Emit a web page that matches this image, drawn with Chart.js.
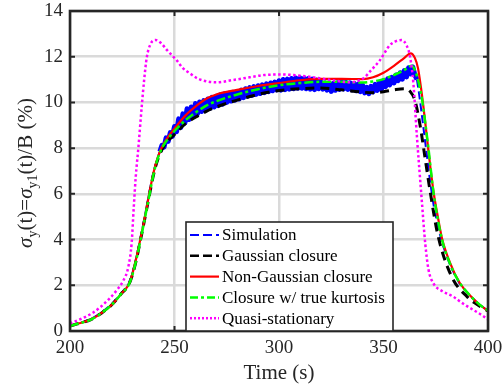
<!DOCTYPE html>
<html>
<head>
<meta charset="utf-8">
<script src="https://cdn.jsdelivr.net/npm/chart.js@4"></script>
<style>
  body { margin: 0; background: #fff; }
  #wrap { width: 503px; height: 392px; position: relative; }
</style>
</head>
<body>
<div id="wrap"><canvas id="grafico"></canvas></div>
<script>
// eixos
const xTicks = [200, 250, 300, 350, 400];
const yTicks = [0, 2, 4, 6, 8, 10, 12, 14];

// Simulation (ruidosa no patamar)
const simTime = [200, 205, 210, 215, 220, 225, 228, 230, 232, 233.5, 235, 236.5, 238, 240, 242,
  243, 244, 245, 246, 247, 248, 249, 250, 251, 252, 253, 254, 255, 256, 257, 258, 259, 260, 261, 262, 263, 264,
  265, 266, 267, 268, 269, 270, 271, 272, 273, 274, 275, 276, 277, 278, 279, 280, 281, 282, 283, 284, 285,
  286, 287, 288, 289, 290, 291, 292, 293, 294, 295, 296, 297, 298, 299, 300, 301, 302, 303, 304, 305, 306,
  307, 308, 309, 310, 311, 312, 313, 314, 315, 316, 317, 318, 319, 320, 321, 322, 323, 324, 325, 326, 327,
  328, 329, 330, 331, 332, 333, 334, 335, 336, 337, 338, 339, 340, 341, 342, 343, 344, 345, 346, 347, 348,
  349, 350, 351, 352, 353, 354, 355, 356, 357, 358, 359, 360, 361, 362, 363, 364, 365, 366,
  367, 368, 369.5, 371, 372.5, 374, 376, 378, 382, 386.5, 392, 396, 400];
const simValue = [0.22, 0.36, 0.52, 0.8, 1.18, 1.7, 2.05, 2.58, 3.32, 3.98, 4.65, 5.35, 6.1, 7.0, 7.6,
  7.85, 8.12, 8.05, 8.45, 8.3, 8.68, 8.52, 8.95, 8.72, 9.28, 8.9, 9.5, 9.1, 9.72, 9.25, 9.8, 9.38, 9.95, 9.5, 10.02, 9.6, 10.08,
  9.68, 10.15, 9.74, 10.22, 9.8, 10.27, 9.86, 10.33, 9.92, 10.38, 10.0, 10.4, 10.06, 10.44, 10.1, 10.48, 10.15, 10.54, 10.21, 10.6, 10.27,
  10.65, 10.31, 10.69, 10.35, 10.73, 10.39, 10.77, 10.43, 10.81, 10.47, 10.85, 10.51, 10.89, 10.55, 10.95, 10.54, 11.0, 10.56, 11.02, 10.58, 11.05,
  10.6, 11.07, 10.62, 11.08, 10.62, 11.06, 10.6, 11.04, 10.58, 11.02, 10.56, 10.98, 10.6, 10.9, 10.58, 10.86, 10.54, 10.82, 10.48, 10.84, 10.53,
  10.86, 10.57, 10.9, 10.59, 10.88, 10.57, 10.86, 10.55, 10.83, 10.51, 10.8, 10.47, 10.76, 10.42, 10.66, 10.38, 10.7, 10.46, 10.79, 10.53, 10.87,
  10.57, 10.95, 10.69, 11.03, 10.77, 11.1, 10.85, 11.2, 10.95, 11.3, 11.02, 11.4, 11.12, 11.52, 11.25, 11.55, 11.2, 11.0,
  10.4, 9.7, 8.6, 7.5, 6.4, 5.5, 4.6, 3.85, 2.85, 2.05, 1.48, 1.15, 0.88];

// Gaussian closure
const gaussTime = [200, 205, 210, 215, 220, 225, 228, 230, 232, 233.5, 235, 236.5, 238, 240, 242, 245, 250, 255, 260,
  265, 270, 280, 290, 300, 310, 320, 330, 340, 345, 350, 355, 360, 363, 365, 367.5, 370, 372.5, 376, 382.5, 390, 395, 400];
const gaussValue = [0.22, 0.35, 0.5, 0.78, 1.15, 1.68, 2.0, 2.5, 3.22, 3.88, 4.55, 5.25, 5.95, 6.85, 7.5, 8.1, 8.6, 9.05, 9.35,
  9.6, 9.8, 10.1, 10.35, 10.52, 10.6, 10.63, 10.55, 10.45, 10.42, 10.47, 10.55, 10.6, 10.45, 10.1, 9.0, 7.5, 6.0, 4.2, 2.4, 1.5, 1.15, 0.88];

// Non-Gaussian closure
const nonGaussTime = [200, 205, 210, 215, 220, 225, 228, 230, 232, 233.5, 235, 236.5, 238, 240, 242, 244, 247, 250, 253,
  256, 260, 265, 270, 280, 290, 300, 310, 320, 330, 340, 345, 350, 355, 360, 363, 365, 366.5, 368, 369.5, 371, 372.5,
  374, 376, 378, 382, 386.5, 392, 396, 400];
const nonGaussValue = [0.22, 0.35, 0.5, 0.78, 1.15, 1.68, 2.02, 2.55, 3.3, 3.95, 4.6, 5.3, 6.05, 6.95, 7.6, 8.05, 8.5, 8.85, 9.2,
  9.5, 9.82, 10.15, 10.35, 10.55, 10.72, 10.85, 10.97, 11.03, 11.03, 11.02, 11.1, 11.3, 11.6, 11.95, 12.15, 11.95, 11.5, 10.6, 9.5, 8.3, 7.1,
  6.05, 5.0, 4.05, 2.95, 2.1, 1.5, 1.15, 0.88];

// Closure w/ true kurtosis
const kurtTime = [200, 205, 210, 215, 220, 225, 228, 230, 232, 233.5, 235, 236.5, 238, 240, 242, 244, 247, 250, 255,
  260, 265, 270, 280, 290, 300, 310, 320, 330, 340, 345, 350, 355, 360, 363.5, 365.5, 367, 368.5, 370, 371.5, 374,
  378, 382, 386.5, 392, 396, 400];
const kurtValue = [0.22, 0.35, 0.5, 0.78, 1.15, 1.68, 2.0, 2.5, 3.22, 3.88, 4.55, 5.25, 5.95, 6.88, 7.55, 8.0, 8.42, 8.75, 9.2,
  9.55, 9.85, 10.05, 10.35, 10.58, 10.75, 10.85, 10.9, 10.9, 10.87, 10.92, 11.02, 11.2, 11.42, 11.6, 11.3, 10.8, 10.1, 9.1, 8.0, 6.0,
  4.0, 2.9, 2.1, 1.5, 1.15, 0.9];

// Quasi-stationary
const quasiTime = [200, 205, 211, 215, 219, 222.5, 225.5, 227.9, 229.5, 230.5, 231.5, 232.7, 234.3, 235.5, 236.7, 238.5,
  241, 243.5, 246.3, 251, 254, 257.4, 261, 265.4, 270, 278, 286, 293, 300, 307, 314.8, 320, 327, 334, 338, 341, 344,
  348.3, 353, 356, 358.7, 361, 362.7, 364.3, 366, 368.3, 370, 371.5, 373.9, 378, 383.4, 388, 393, 397, 400];
const quasiValue = [0.33, 0.52, 0.8, 1.08, 1.43, 1.8, 2.2, 2.8, 3.85, 5.4, 6.8, 8.0, 9.8, 11.0, 11.95, 12.55,
  12.73, 12.6, 12.3, 11.85, 11.5, 11.27, 11.05, 10.92, 10.88, 10.98, 11.1, 11.2, 11.22, 11.2, 11.12, 11.05, 10.95, 10.88, 10.95, 11.1, 11.4,
  11.85, 12.5, 12.68, 12.73, 12.5, 12.0, 10.83, 8.5, 5.73, 3.8, 2.7, 2.08, 1.75, 1.5, 1.2, 0.92, 0.7, 0.5];

const fonte = "'Liberation Serif', 'Times New Roman', serif";
const cinza = "#262626";

function pontos(ts, vs) {
  return ts.map((t, i) => ({ x: t, y: vs[i] }));
}

const largo = c => c.p0.parsed.x >= 243 && c.p1.parsed.x <= 366;

const series = [
  { label: "Simulation", data: pontos(simTime, simValue), borderColor: "#0000ff", borderWidth: 2,
    borderDash: [8, 4], tension: 0, order: 5, leg: { dash: [9, 4], w: 2 },
    segment: {
      borderWidth: c => (largo(c) ? 5 : 2),
      borderDash: c => (largo(c) ? [] : [8, 4])
    } },
  { label: "Gaussian closure", data: pontos(gaussTime, gaussValue), borderColor: "#000000", borderWidth: 3,
    borderDash: [9, 6], cubicInterpolationMode: "monotone", order: 4, leg: { dash: [9, 4], w: 2.5 } },
  { label: "Non-Gaussian closure", data: pontos(nonGaussTime, nonGaussValue), borderColor: "#ff0000", borderWidth: 2.2,
    cubicInterpolationMode: "monotone", order: 3, leg: { dash: [], w: 2.2 } },
  { label: "Closure w/ true kurtosis", data: pontos(kurtTime, kurtValue), borderColor: "#00ff00", borderWidth: 2.5,
    borderDash: [9, 3, 3, 3], cubicInterpolationMode: "monotone", order: 2, leg: { dash: [8, 3, 3, 3], w: 2.5 } },
  { label: "Quasi-stationary", data: pontos(quasiTime, quasiValue), borderColor: "#ff00ff", borderWidth: 2.5,
    borderDash: [2.5, 2.5], cubicInterpolationMode: "monotone", order: 1, leg: { dash: [2, 2], w: 2.5 } }
];

const moldura = {
  id: "moldura",
  afterDatasetsDraw(chart) {
    const ctx = chart.ctx;
    const a = chart.chartArea;
    const sx = chart.scales.x, sy = chart.scales.y;
    ctx.save();
    // ticks para dentro
    ctx.strokeStyle = cinza;
    ctx.lineWidth = 2;
    xTicks.forEach(v => {
      const px = sx.getPixelForValue(v);
      ctx.beginPath();
      ctx.moveTo(px, a.bottom); ctx.lineTo(px, a.bottom - 5);
      ctx.moveTo(px, a.top); ctx.lineTo(px, a.top + 5);
      ctx.stroke();
    });
    yTicks.forEach(v => {
      const py = sy.getPixelForValue(v);
      ctx.beginPath();
      ctx.moveTo(a.left, py); ctx.lineTo(a.left + 5, py);
      ctx.moveTo(a.right, py); ctx.lineTo(a.right - 5, py);
      ctx.stroke();
    });
    // caixa
    ctx.lineWidth = 2.6;
    ctx.strokeRect(a.left, a.top, a.right - a.left, a.bottom - a.top);

    // legenda
    const lx = 186, ly = 222, lw = 207, lh = a.bottom - 222;
    ctx.fillStyle = "#fff";
    ctx.fillRect(lx, ly, lw, lh);
    ctx.lineWidth = 1.6;
    ctx.strokeStyle = cinza;
    ctx.strokeRect(lx, ly, lw, lh);
    ctx.font = "17px " + fonte;
    ctx.textBaseline = "middle";
    series.forEach((s, i) => {
      const y = 235 + i * 20.8;
      ctx.beginPath();
      ctx.setLineDash(s.leg.dash);
      ctx.lineWidth = s.leg.w;
      ctx.strokeStyle = s.borderColor;
      ctx.moveTo(190, y); ctx.lineTo(219, y);
      ctx.stroke();
      ctx.setLineDash([]);
      ctx.fillStyle = "#000";
      ctx.fillText(s.label, 222, y + 1);
    });

    // titulo do eixo x
    ctx.fillStyle = cinza;
    ctx.font = "21px " + fonte;
    ctx.textAlign = "center";
    ctx.textBaseline = "alphabetic";
    ctx.fillText("Time (s)", (a.left + a.right) / 2, 379);

    // titulo do eixo y com subscritos
    const partes = [
      { t: "\u03C3", f: "italic 21px " + fonte, dy: 0 },
      { t: "y", f: "14px " + fonte, dy: 5 },
      { t: "(t)=", f: "21px " + fonte, dy: 0 },
      { t: "\u03C3", f: "italic 21px " + fonte, dy: 0 },
      { t: "y1", f: "14px " + fonte, dy: 5 },
      { t: "(t)/B (%)", f: "21px " + fonte, dy: 0 }
    ];
    let total = 0;
    partes.forEach(p => { ctx.font = p.f; p.w = ctx.measureText(p.t).width; total += p.w; });
    ctx.translate(32, (a.top + a.bottom) / 2 + 2);
    ctx.rotate(-Math.PI / 2);
    ctx.textAlign = "left";
    let x = -total / 2;
    partes.forEach(p => {
      ctx.font = p.f;
      ctx.fillText(p.t, x, p.dy);
      x += p.w;
    });
    ctx.restore();
  }
};

function desenharGrafico() {
  const ctx = document.getElementById("grafico").getContext("2d");
  new Chart(ctx, {
    type: "line",
    data: { datasets: series },
    options: {
      responsive: true,
      maintainAspectRatio: false,
      animation: false,
      events: [],
      layout: { padding: { left: 0, right: 15, top: 11, bottom: 0 } },
      elements: { point: { radius: 0 }, line: { borderJoinStyle: "round" } },
      plugins: { legend: { display: false }, tooltip: { enabled: false } },
      scales: {
        x: {
          type: "linear", min: 200, max: 400,
          afterBuildTicks: s => { s.ticks = xTicks.map(v => ({ value: v })); },
          afterFit: s => { s.height = 61; s.paddingLeft = 0; s.paddingRight = 0; },
          ticks: { color: cinza, padding: 6, font: { family: fonte, size: 19 } },
          grid: { color: "#dadada", lineWidth: 2.5, drawTicks: false },
          border: { display: false }
        },
        y: {
          min: 0, max: 14,
          afterBuildTicks: s => { s.ticks = yTicks.map(v => ({ value: v })); },
          afterFit: s => { s.width = 70; s.paddingTop = 0; s.paddingBottom = 0; },
          ticks: { color: cinza, padding: 7, font: { family: fonte, size: 19 } },
          grid: { color: "#dadada", lineWidth: 2.5, drawTicks: false },
          border: { display: false }
        }
      }
    },
    plugins: [moldura]
  });
}

window.onload = desenharGrafico;
</script>
</body>
</html>
